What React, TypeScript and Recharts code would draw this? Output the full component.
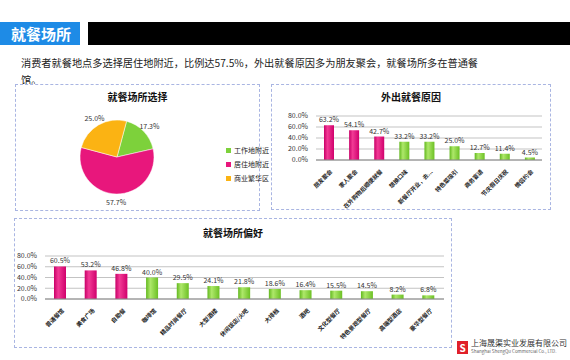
import React from "react";
import { Bar, BarChart, CartesianGrid, Cell, LabelList, Pie, PieChart, XAxis, YAxis } from "recharts";

const placeNames = ["工作地附近", "居住地附近", "商业繁华区"];
const placeShares = [17.3, 57.7, 25.0];
const placeColors = ["#7dd13b", "#e8177c", "#fbb313"];

const reasonNames = ["朋友聚会", "家人聚会", "在外购物后顺便就餐", "想换口味", "新餐厅开业，去...", "特色菜吸引", "商务宴请", "节庆假日庆祝", "情侣约会"];
const reasonValues = [63.2, 54.1, 42.7, 33.2, 33.2, 25.0, 12.7, 11.4, 4.5];
const reasonPinkCount = 3;

const venueNames = ["普通餐馆", "美食广场", "自助餐", "咖啡馆", "精品时尚餐厅", "大型酒楼", "休闲饭店/火吧", "大排档", "酒吧", "文化型餐厅", "特色景观型餐厅", "高端型酒店", "豪华型餐厅"];
const venueValues = [60.5, 53.2, 46.8, 40.0, 29.5, 24.1, 21.8, 18.6, 16.4, 15.5, 14.5, 8.2, 6.8];
const venuePinkCount = 3;

const yTicks = [0, 20, 40, 60, 80];

const FONT = "'Noto Sans CJK SC', 'Noto Sans', sans-serif";

const pieData = placeNames.map((name, i) => ({ name, value: placeShares[i] }));
const reasonData = reasonNames.map((name, i) => ({ name, value: reasonValues[i] }));
const venueData = venueNames.map((name, i) => ({ name, value: venueValues[i] }));

const pct = (v: number) => `${v.toFixed(1)}%`;

function AngledTick({ x, y, payload }: any) {
  return (
    <g transform={`translate(${x + 2},${y + 2})`}>
      <text transform="rotate(-45)" textAnchor="end" fontSize={5.8} fontWeight={700} fill="#222" dy={3} fontFamily={FONT}>
        {payload.value}
      </text>
    </g>
  );
}

function Gradients() {
  return (
    <defs>
      <linearGradient id="gPink" x1="0" y1="0" x2="1" y2="0">
        <stop offset="0%" stopColor="#c80068" />
        <stop offset="35%" stopColor="#f23a95" />
        <stop offset="100%" stopColor="#d0006c" />
      </linearGradient>
      <linearGradient id="gGreen" x1="0" y1="0" x2="1" y2="0">
        <stop offset="0%" stopColor="#62b81e" />
        <stop offset="35%" stopColor="#aee86a" />
        <stop offset="100%" stopColor="#6cc024" />
      </linearGradient>
    </defs>
  );
}

const panel: React.CSSProperties = {
  position: "absolute",
  border: "1px dashed #a9b5e2",
  boxSizing: "border-box",
  background: "#fff",
};

const panelTitle: React.CSSProperties = {
  position: "absolute",
  left: 0,
  right: 0,
  textAlign: "center",
  fontSize: 10,
  fontWeight: 700,
  color: "#111",
  fontFamily: FONT,
};

const svgStyle: React.CSSProperties = { position: "absolute", left: 0, top: 0, overflow: "visible" };

function PieLabel({ cx, cy, midAngle, outerRadius, value }: any) {
  const RAD = Math.PI / 180;
  const r = outerRadius + 8;
  const x = cx + r * Math.cos(-midAngle * RAD);
  const y = cy + r * Math.sin(-midAngle * RAD);
  return (
    <text x={x} y={y} textAnchor="middle" dominantBaseline="central" fontSize={7} fill="#333" fontFamily={FONT}>
      {pct(value)}
    </text>
  );
}

export default function App() {
  return (
    <div style={{ position: "absolute", left: 0, top: 0, width: 570, height: 360, background: "#fff", overflow: "hidden", fontFamily: FONT }}>
      {/* header */}
      <div style={{ position: "absolute", left: 0, top: 22, width: 80, height: 23, background: "#1e8be6", color: "#fff", fontSize: 15, fontWeight: 700, lineHeight: "23px", paddingLeft: 11, boxSizing: "border-box" }}>
        就餐场所
      </div>
      <div style={{ position: "absolute", left: 88, top: 22, width: 482, height: 23, background: "#000" }} />
      <div style={{ position: "absolute", left: 21, top: 54, fontSize: 10.2, color: "#222", lineHeight: "17px", whiteSpace: "nowrap" }}>
        <div>消费者就餐地点多选择居住地附近，比例达57.5%，外出就餐原因多为朋友聚会，就餐场所多在普通餐</div>
        <div>馆。</div>
      </div>

      {/* pie panel */}
      <div style={{ ...panel, left: 15, top: 84, width: 245, height: 127 }}>
        <div style={{ ...panelTitle, top: 4 }}>就餐场所选择</div>
        <PieChart width={243} height={124} style={svgStyle} margin={{ top: 0, right: 0, bottom: 0, left: 0 }}>
          <Pie
            data={pieData}
            dataKey="value"
            cx={101}
            cy={72}
            outerRadius={37}
            startAngle={75}
            endAngle={-285}
            stroke="#fff"
            strokeWidth={0.5}
            label={PieLabel}
            labelLine={false}
            isAnimationActive={false}
          >
            {pieData.map((d, i) => (
              <Cell key={d.name} fill={placeColors[i]} />
            ))}
          </Pie>
        </PieChart>
        <div style={{ position: "absolute", left: 210, top: 58, fontSize: 7, color: "#222", lineHeight: "14px", whiteSpace: "nowrap" }}>
          {placeNames.map((n, i) => (
            <div key={n} style={{ display: "flex", alignItems: "center" }}>
              <span style={{ display: "inline-block", width: 5, height: 5, background: placeColors[i], marginRight: 3 }} />
              {n}
            </div>
          ))}
        </div>
      </div>

      {/* reasons panel */}
      <div style={{ ...panel, left: 271, top: 84, width: 280, height: 126 }}>
        <div style={{ ...panelTitle, top: 4 }}>外出就餐原因</div>
        <BarChart width={278} height={124} data={reasonData} margin={{ top: 31, right: 8, bottom: 4, left: 0 }} style={svgStyle}>
          <Gradients />
          <CartesianGrid stroke="#9a9a9a" strokeWidth={0.6} vertical={false} />
          <XAxis dataKey="name" interval={0} tick={<AngledTick />} height={45} axisLine={{ stroke: "#888" }} tickLine={false} />
          <YAxis domain={[0, 80]} ticks={yTicks} interval={0} tickFormatter={pct} width={44} tick={{ fill: "#333", fontSize: 7 }} axisLine={false} tickLine={false} />
          <Bar dataKey="value" barSize={10} isAnimationActive={false}>
            {reasonData.map((d, i) => (
              <Cell key={d.name} fill={i < reasonPinkCount ? "url(#gPink)" : "url(#gGreen)"} />
            ))}
            <LabelList dataKey="value" position="top" formatter={pct} fontSize={7} fill="#333" offset={3} />
          </Bar>
        </BarChart>
      </div>

      {/* venues panel */}
      <div style={{ ...panel, left: 14, top: 218, width: 438, height: 130 }}>
        <div style={{ ...panelTitle, top: 6 }}>就餐场所偏好</div>
        <BarChart width={436} height={128} data={venueData} margin={{ top: 37, right: 7, bottom: 4, left: 0 }} style={svgStyle}>
          <Gradients />
          <CartesianGrid stroke="#9a9a9a" strokeWidth={0.6} vertical={false} />
          <XAxis dataKey="name" interval={0} tick={<AngledTick />} height={44} axisLine={{ stroke: "#888" }} tickLine={false} />
          <YAxis domain={[0, 80]} ticks={yTicks} interval={0} tickFormatter={pct} width={30} tick={{ fill: "#333", fontSize: 7 }} axisLine={false} tickLine={false} />
          <Bar dataKey="value" barSize={12} isAnimationActive={false}>
            {venueData.map((d, i) => (
              <Cell key={d.name} fill={i < venuePinkCount ? "url(#gPink)" : "url(#gGreen)"} />
            ))}
            <LabelList dataKey="value" position="top" formatter={pct} fontSize={7} fill="#333" offset={3} />
          </Bar>
        </BarChart>
      </div>

      {/* logo */}
      <div style={{ position: "absolute", left: 457, top: 341, width: 11, height: 13, background: "#e0202a", color: "#fff", fontSize: 10, fontWeight: 700, lineHeight: "13px", textAlign: "center" }}>S</div>
      <div style={{ position: "absolute", left: 471, top: 338, fontSize: 8, color: "#333", whiteSpace: "nowrap", lineHeight: "10px" }}>
        <div>上海晟渠实业发展有限公司</div>
        <div style={{ fontSize: 4.5, color: "#666", lineHeight: "7px" }}>Shanghai ShengQu Commercial Co., LTD.</div>
      </div>
    </div>
  );
}
